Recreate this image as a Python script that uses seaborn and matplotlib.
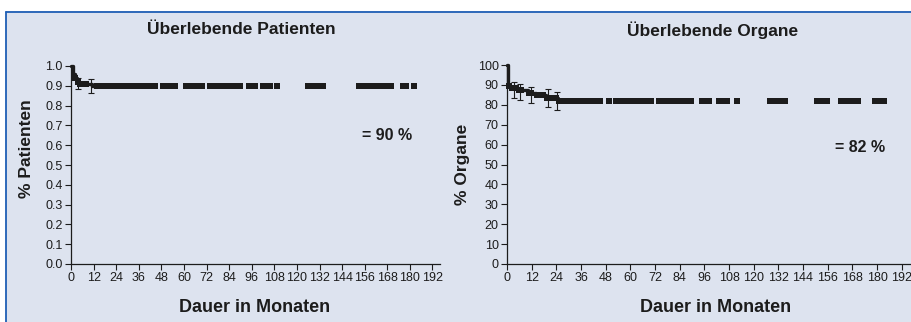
import numpy as np
import pandas as pd
import matplotlib
matplotlib.use('Agg')
import matplotlib.pyplot as plt
import seaborn as sns
from matplotlib.patches import Rectangle
from matplotlib.lines import Line2D

# Ueberlebende Patienten: Stufen (Monate, Anteil)
pat_t = [0, 1, 2, 3, 5, 11, 12]
pat_s = [1.0, 0.96, 0.94, 0.92, 0.91, 0.90, 0.90]
# Fehlerbalken (Zeit, Wert, unten, oben)
pat_err_t = [3.5, 10.5]
pat_err_s = [0.912, 0.897]
pat_err_lo = [0.884, 0.862]
pat_err_hi = [0.940, 0.933]
# zensierte Faelle
pat_cens = [2, 3.5, 5, 6, 7, 8, 14, 15.5, 17, 19, 20.5, 22, 23.5, 25, 26.5, 28,
            30.5, 32, 34, 35.5, 37.5, 39, 41, 43, 44.5, 49, 51, 53, 55,
            61, 62.5, 64, 66.5, 68, 69.5, 74, 75.5, 77, 78.5, 80, 82, 83.5, 85,
            86.5, 88, 90, 94.5, 96, 98, 102, 103.5, 105.5, 109.5,
            126, 127.5, 129, 130.5, 132, 134, 153, 154.5, 156.5, 158,
            161, 162.5, 164, 165.5, 167, 168.5, 170, 176.5, 178, 182]

# Ueberlebende Organe
org_t = [0, 0.5, 2, 5, 10, 14, 19, 25, 26]
org_s = [100, 89.5, 88.5, 87.5, 86, 85, 83.5, 82, 82]
org_err_t = [3.4, 6.3, 11.7, 20, 24.3]
org_err_s = [88.0, 86.5, 85.0, 83.5, 82.0]
org_err_lo = [83.3, 82.4, 81.0, 79.0, 77.5]
org_err_hi = [91.6, 90.3, 89.0, 88.0, 86.6]
org_cens = [1, 2.5, 3.5, 4.5, 6, 7, 10.5, 11.5, 14.5, 16, 17.5, 19.5, 21, 22.5, 24,
            25.5, 27, 28.5, 30, 31.5, 33, 34.5, 37, 38.5, 40, 41.5, 43, 45,
            49.5, 53, 55, 57, 60, 61.5, 63, 65, 68, 70,
            74, 75.5, 77, 78.5, 80.5, 83, 85, 88, 89.5, 95, 96.5, 98.5,
            103, 104.5, 107, 112, 128, 129.5, 131, 133, 135, 151, 152.5, 155.5,
            162.5, 164, 165.5, 167, 169, 170.5, 179, 180.5, 183.5]

bg = '#dde3ef'
blue = '#1f5fb5'
ink = '#1c1c1c'

sns.set_style('ticks')
plt.rcParams['font.family'] = ['Liberation Sans', 'DejaVu Sans']

fig = plt.figure(figsize=(9.12, 3.22), dpi=100)
fig.patch.set_facecolor('white')
W, H = 912, 322
fig.patches.append(Rectangle((6 / W, 0), 1, 1 - 11 / H, transform=fig.transFigure,
                             facecolor=bg, edgecolor='none', zorder=-5))
fig.lines.append(Line2D([6.5 / W, 6.5 / W], [0, 1 - 11.5 / H], transform=fig.transFigure,
                        color=blue, lw=1.3, zorder=-4))
fig.lines.append(Line2D([6 / W, 1], [1 - 11.5 / H, 1 - 11.5 / H], transform=fig.transFigure,
                        color=blue, lw=1.3, zorder=-4))


def km_panel(ax, t, s, et, es, elo, ehi, cens, ymax, yticks, ylabels):
    ax.set_facecolor('none')
    df = pd.DataFrame({'t': t, 's': s})
    sns.lineplot(data=df, x='t', y='s', ax=ax, drawstyle='steps-post',
                 color=ink, lw=2.4, clip_on=False)
    # Zensierungen liegen auf der Stufenfunktion
    idx = np.searchsorted(np.array(t), np.array(cens), side='right') - 1
    cdf = pd.DataFrame({'t': cens, 's': np.array(s)[idx]})
    sns.scatterplot(data=cdf, x='t', y='s', ax=ax, marker='s', s=16, color=ink,
                    linewidth=0, clip_on=False)
    ax.errorbar(et, es, yerr=[np.array(es) - np.array(elo), np.array(ehi) - np.array(es)],
                fmt='none', ecolor=ink, elinewidth=0.8, capsize=2, capthick=0.8)
    ax.set_ylim(0, ymax)
    ax.set_yticks(yticks)
    ax.set_yticklabels(ylabels)
    ax.set_xticks(range(0, 193, 12))
    ax.set_xlabel('')
    ax.set_ylabel('')
    sns.despine(ax=ax)
    for sp in ['left', 'bottom']:
        ax.spines[sp].set_linewidth(0.9)
        ax.spines[sp].set_color(ink)
    ax.tick_params(direction='out', length=4.5, width=0.8, color=ink, pad=1.5,
                   labelsize=9, labelcolor=ink)


ax1 = fig.add_axes([71 / W, 1 - 264 / H, 369 / W, 198 / H])
km_panel(ax1, pat_t, pat_s, pat_err_t, pat_err_s, pat_err_lo, pat_err_hi, pat_cens,
         1.0, np.arange(0, 1.01, 0.1), [f'{v:.1f}' for v in np.arange(0, 1.01, 0.1)])
ax1.set_xlim(0, 196)

ax2 = fig.add_axes([507 / W, 1 - 264 / H, 405 / W, 199 / H])
km_panel(ax2, org_t, org_s, org_err_t, org_err_s, org_err_lo, org_err_hi, org_cens,
         100, range(0, 101, 10), [str(v) for v in range(0, 101, 10)])
ax2.set_xlim(0, 197)

tkw = dict(fontsize=12.5, fontweight='bold', color=ink, ha='center', va='center')
fig.text(241 / W, 1 - 30 / H, 'Überlebende Patienten', **tkw)
fig.text(713 / W, 1 - 30 / H, 'Überlebende Organe', **tkw)
xkw = dict(tkw, fontsize=13)
fig.text(255 / W, 1 - 308 / H, 'Dauer in Monaten', **xkw)
fig.text(716 / W, 1 - 308 / H, 'Dauer in Monaten', **xkw)
fig.text(27 / W, 1 - 149 / H, '% Patienten', rotation=90, **tkw)
fig.text(463 / W, 1 - 164 / H, '% Organe', rotation=90, **tkw)
fig.text(387 / W, 1 - 135 / H, '= 90 %', fontsize=11.5, fontweight='bold', color=ink,
         ha='center', va='center')
fig.text(860 / W, 1 - 147 / H, '= 82 %', fontsize=11.5, fontweight='bold', color=ink,
         ha='center', va='center')

fig.savefig('out.png', dpi=100, facecolor=fig.get_facecolor())
